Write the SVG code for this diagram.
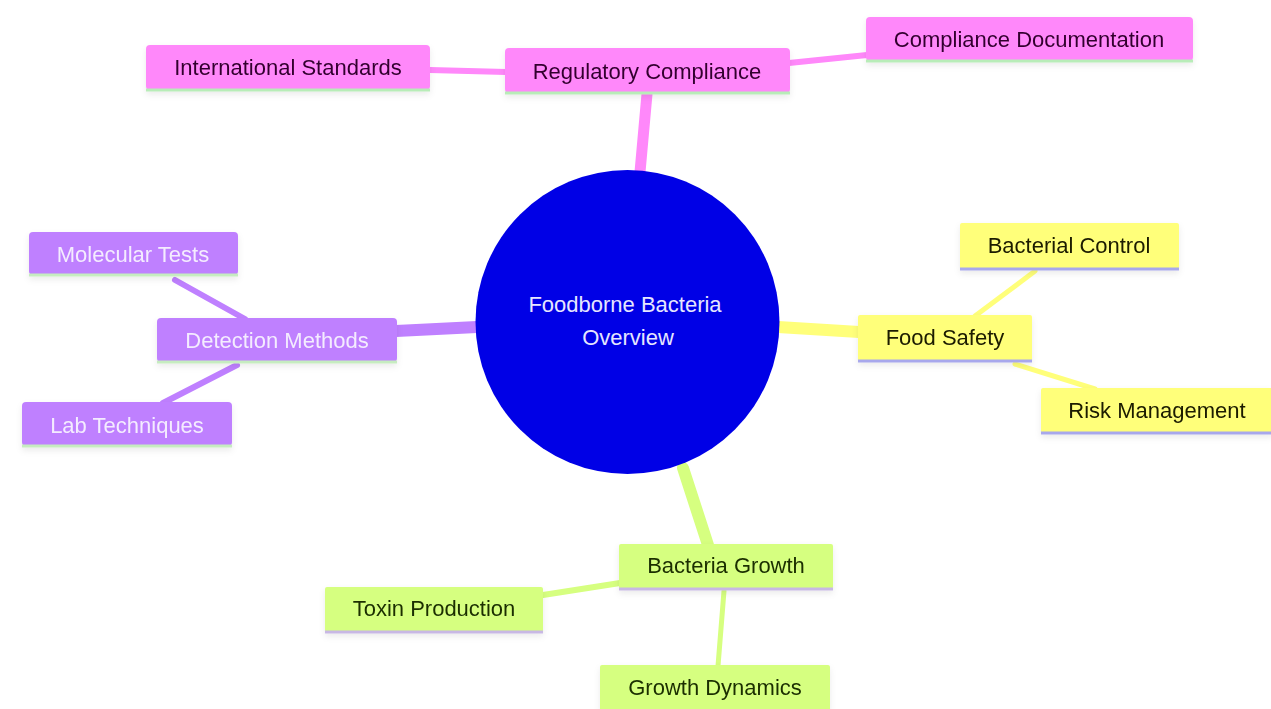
<svg xmlns="http://www.w3.org/2000/svg" width="1271" height="709" viewBox="0 0 1271 709">
<defs>
<filter id="sh" x="-10%" y="-20%" width="120%" height="160%">
<feDropShadow dx="0" dy="3" stdDeviation="3" flood-color="#000" flood-opacity="0.08"/>
</filter>
</defs>
<style>
text{font-family:"Liberation Sans",Arial,sans-serif;font-size:22px;text-anchor:middle;dominant-baseline:central}
.pk rect{fill:#ff88fa}.pk text{fill:#33002f}.pk line{stroke:#b8ecb8}
.pu rect{fill:#bf80ff}.pu text{fill:#f4ecff}.pu line{stroke:#c6ecc0}
.ye rect{fill:#ffff7a}.ye text{fill:#1a1a00}.ye line{stroke:#a8a8ec}
.gr rect{fill:#d6ff80}.gr text{fill:#1a2e00}.gr line{stroke:#c8b8e4}
.node line{stroke-width:3}
.e{fill:none;stroke-linecap:round}
</style>
<rect width="1271" height="709" fill="#fff"/>
<g id="connectors">
<line class="e" x1="640" y1="172" x2="647" y2="94" stroke="#ff88fa" stroke-width="11"/>
<line class="e" x1="430" y1="70" x2="506" y2="72" stroke="#ff88fa" stroke-width="6"/>
<line class="e" x1="789" y1="63" x2="867" y2="55" stroke="#ff88fa" stroke-width="6"/>
<line class="e" x1="477" y1="327" x2="396" y2="331" stroke="#bf80ff" stroke-width="12"/>
<line class="e" x1="175" y1="280" x2="245" y2="319" stroke="#bf80ff" stroke-width="6"/>
<line class="e" x1="163" y1="403" x2="237" y2="365" stroke="#bf80ff" stroke-width="6"/>
<line class="e" x1="778" y1="327" x2="859" y2="332" stroke="#ffff7a" stroke-width="12"/>
<line class="e" x1="975" y1="316" x2="1035" y2="271" stroke="#ffff7a" stroke-width="5"/>
<line class="e" x1="1015" y1="364" x2="1095" y2="389" stroke="#ffff7a" stroke-width="5"/>
<line class="e" x1="683" y1="468" x2="708" y2="545" stroke="#d6ff80" stroke-width="12"/>
<line class="e" x1="543" y1="595" x2="620" y2="583" stroke="#d6ff80" stroke-width="6"/>
<line class="e" x1="724" y1="591" x2="718" y2="666" stroke="#d6ff80" stroke-width="5"/>
</g>
<g id="root">
<circle cx="627.5" cy="322" r="152" fill="#0000e6"/>
<text x="625" y="304" fill="#e6e6ff">Foodborne Bacteria</text>
<text x="628" y="337" fill="#e6e6ff">Overview</text>
</g>
<g id="n-regulatory" class="node pk" filter="url(#sh)">
<rect x="505" y="48" width="285" height="45" rx="4"/>
<line x1="505" y1="93" x2="790" y2="93"/>
<text x="647" y="71">Regulatory Compliance</text>
</g>
<g id="n-international" class="node pk" filter="url(#sh)">
<rect x="146" y="45" width="284" height="45" rx="4"/>
<line x1="146" y1="90" x2="430" y2="90"/>
<text x="288" y="67">International Standards</text>
</g>
<g id="n-compdoc" class="node pk" filter="url(#sh)">
<rect x="866" y="17" width="327" height="44" rx="4"/>
<line x1="866" y1="61" x2="1193" y2="61"/>
<text x="1029" y="39">Compliance Documentation</text>
</g>
<g id="n-detection" class="node pu" filter="url(#sh)">
<rect x="157" y="318" width="240" height="44" rx="4"/>
<line x1="157" y1="362" x2="397" y2="362"/>
<text x="277" y="340">Detection Methods</text>
</g>
<g id="n-molecular" class="node pu" filter="url(#sh)">
<rect x="29" y="232" width="209" height="43" rx="4"/>
<line x1="29" y1="275" x2="238" y2="275"/>
<text x="133" y="254">Molecular Tests</text>
</g>
<g id="n-lab" class="node pu" filter="url(#sh)">
<rect x="22" y="402" width="210" height="44" rx="4"/>
<line x1="22" y1="446" x2="232" y2="446"/>
<text x="127" y="425">Lab Techniques</text>
</g>
<g id="n-foodsafety" class="node ye" filter="url(#sh)">
<rect x="858" y="315" width="174" height="46" rx="2"/>
<line x1="858" y1="361" x2="1032" y2="361"/>
<text x="945" y="337">Food Safety</text>
</g>
<g id="n-bactcontrol" class="node ye" filter="url(#sh)">
<rect x="960" y="223" width="219" height="46" rx="2"/>
<line x1="960" y1="269" x2="1179" y2="269"/>
<text x="1069" y="245">Bacterial Control</text>
</g>
<g id="n-risk" class="node ye" filter="url(#sh)">
<rect x="1041" y="388" width="232" height="45" rx="2"/>
<line x1="1041" y1="433" x2="1273" y2="433"/>
<text x="1157" y="410">Risk Management</text>
</g>
<g id="n-growth" class="node gr" filter="url(#sh)">
<rect x="619" y="544" width="214" height="45" rx="2"/>
<line x1="619" y1="589" x2="833" y2="589"/>
<text x="726" y="565">Bacteria Growth</text>
</g>
<g id="n-toxin" class="node gr" filter="url(#sh)">
<rect x="325" y="587" width="218" height="45" rx="2"/>
<line x1="325" y1="632" x2="543" y2="632"/>
<text x="434" y="608">Toxin Production</text>
</g>
<g id="n-dynamics" class="node gr" filter="url(#sh)">
<rect x="600" y="665" width="230" height="48" rx="2"/>
<text x="715" y="687">Growth Dynamics</text>
</g>
</svg>
